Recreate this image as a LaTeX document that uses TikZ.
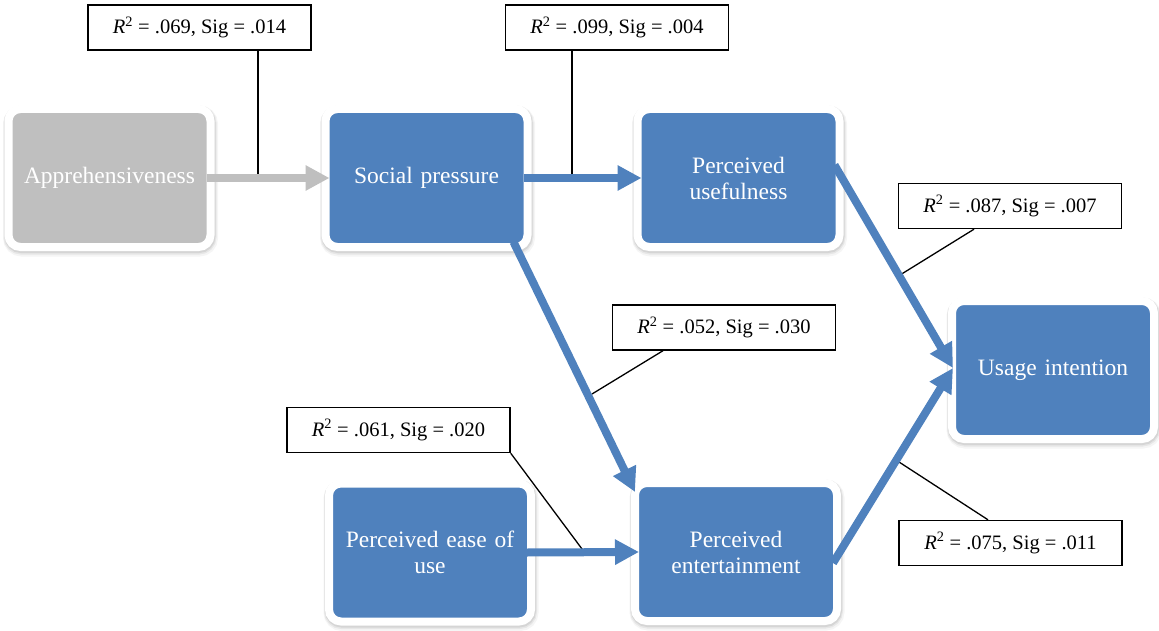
\documentclass[tikz,border=0pt]{standalone}
\usepackage{fontspec}
\setmainfont{Liberation Serif}
\usetikzlibrary{arrows.meta,shadows,calc}
\definecolor{boxblue}{HTML}{4F81BD}
\definecolor{boxgray}{HTML}{BFBFBF}
\newcommand\RSig[2]{\textit{R}\textsuperscript{2} = #1, Sig = #2}
\tikzset{
  box/.style={rounded corners=12pt, draw=white, line width=8pt, fill=boxblue,
    minimum width=202pt, minimum height=138pt, inner sep=0pt, outer sep=-4pt,
    text=white, align=center, text width=190pt,
    font=\fontsize{23.5}{26}\selectfont,
    general shadow={draw=black, fill=black, opacity=0.04, line width=13pt, shadow xshift=1pt, shadow yshift=-3pt},
    general shadow={draw=black, fill=black, opacity=0.06, line width=11pt, shadow xshift=0.5pt, shadow yshift=-2pt},
    general shadow={draw=black, fill=black, opacity=0.08, line width=9pt, shadow xshift=0.5pt, shadow yshift=-1.5pt}},
  graybox/.style={box, fill=boxgray},
  lab/.style={draw=black, line width=1.4pt, fill=white, minimum width=223pt,
    minimum height=45pt, inner sep=0pt, font=\fontsize{20.5}{24}\selectfont},
  callout/.style={draw=black, line width=1.3pt},
  arr/.style={line width=8pt, draw=boxblue, -{Triangle[length=24pt,width=24pt]}},
  grayarr/.style={arr, draw=boxgray}
}
\begin{document}
\begin{tikzpicture}[x=1pt,y=-1pt]
\useasboundingbox (0,0) rectangle (1159,631);
% boxes
\node[graybox] (ap) at (109.5,178) {Apprehensiveness};
\node[box] (sp) at (426.5,178) {Social pressure};
\node[box] (pu) at (738.5,178) {Perceived\\usefulness};
\node[box] (ui) at (1053,370) {Usage intention};
\node[box] (pe) at (430,552.5) {Perceived ease of\\use};
\node[box] (pn) at (736,552) {Perceived\\entertainment};
% labels
\node[lab] (l1) at (199.5,27.5) {\RSig{.069}{.014}};
\node[lab] (l2) at (617,27.5) {\RSig{.099}{.004}};
\node[lab] (l3) at (1010,206) {\RSig{.087}{.007}};
\node[lab] (l4) at (724,327.5) {\RSig{.052}{.030}};
\node[lab] (l5) at (398.5,430) {\RSig{.061}{.020}};
\node[lab] (l6) at (1010.5,543) {\RSig{.075}{.011}};
% callout end points
\coordinate (k1) at (258,178);
\coordinate (k2) at (572,178);
\coordinate (k3) at (900,275);
\coordinate (k4) at (592,394);
\coordinate (k5) at (585,553);
\coordinate (k6) at (899,462);
\draw[callout] (l1.south -| k1) -- (k1);
\draw[callout] (l2.south -| k2) -- (k2);
\draw[callout] ($(l3.south)+(-36,0)$) -- (k3);
\draw[callout] ($(l4.south)+(-61,0)$) -- (k4);
\draw[callout] (l5.south east) -- (k5);
\draw[callout] ($(l6.north)+(-22.5,0)$) -- (k6);
% arrows
\draw[grayarr] (ap.east) -- (sp.west);
\draw[arr] (sp.east) -- (pu.west);
\draw[arr] ($(sp.south east)+(-10,-1)$) -- ($(pn.north west)+(-4,5)$);
\draw[arr] ($(pu.east)+(-1,-13)$) -- ($(ui.west)+(-3,-2)$);
\draw[arr] ($(pn.east)+(0,11)$) -- ($(ui.west)+(-3,-2)$);
\draw[arr] (pe.east) -- (pn.west);
\end{tikzpicture}
\end{document}
